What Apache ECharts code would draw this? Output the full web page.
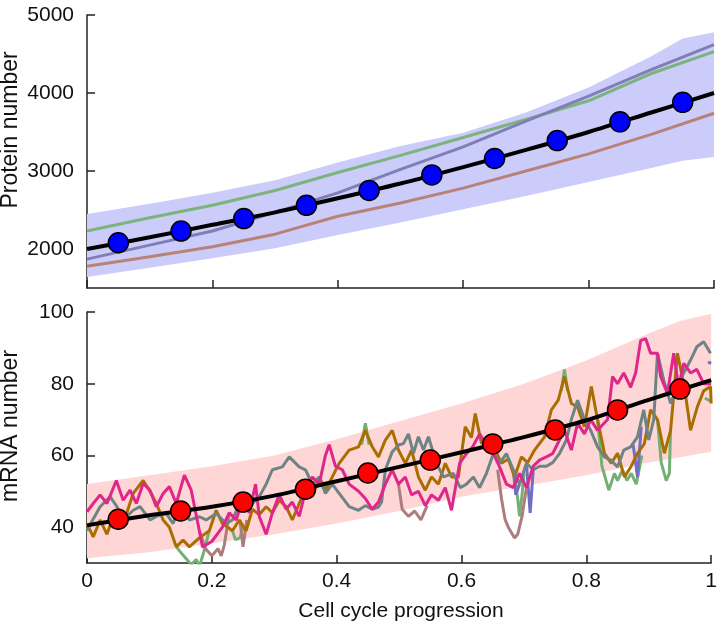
<!DOCTYPE html>
<html>
<head>
<meta charset="utf-8">
<script src="https://cdn.jsdelivr.net/npm/echarts@6/dist/echarts.min.js"></script>
<style>
  html, body { margin: 0; padding: 0; background: #fff; }
  #chart { width: 720px; height: 623px; }
</style>
</head>
<body>
<div id="chart"></div>
<script>
// ---- protein panel ----
const protX = [0, 0.1, 0.2, 0.3, 0.4, 0.5, 0.6, 0.7, 0.8, 0.9, 1];
const protMean = [2000, 2150, 2310, 2470, 2650, 2840, 3050, 3270, 3500, 3750, 4000];
const protGreen = [2230, 2400, 2560, 2750, 2980, 3200, 3430, 3660, 3900, 4250, 4530];
const protPurple = [1870, 2050, 2230, 2470, 2720, 3020, 3310, 3640, 3960, 4300, 4620];
const protRose = [1780, 1900, 2030, 2190, 2420, 2590, 2780, 3000, 3220, 3470, 3740];
const protDotX = [0.05, 0.15, 0.25, 0.35, 0.45, 0.55, 0.65, 0.75, 0.85, 0.95];
const protDots = [2080, 2230, 2390, 2560, 2750, 2950, 3160, 3390, 3630, 3880];
const protBandX = [0, 0.1, 0.2, 0.3, 0.4, 0.5, 0.6, 0.7, 0.8, 0.9, 0.95, 1];
const protUpper = [2450, 2580, 2720, 2880, 3110, 3320, 3490, 3750, 4070, 4470, 4700, 4780];
const protLower = [1640, 1760, 1880, 2010, 2180, 2340, 2510, 2680, 2860, 3040, 3130, 3180];
const protTicks = [2000, 3000, 4000, 5000];

// ---- mRNA panel ----
const mrnaX = [0, 0.1, 0.2, 0.3, 0.4, 0.5, 0.6, 0.7, 0.8, 0.9, 1];
const mrnaMean = [40.5, 43.3, 45.7, 48.8, 52.8, 56.8, 60.9, 65.1, 69.8, 75.5, 81];
const mrnaDotX = [0.05, 0.15, 0.25, 0.35, 0.45, 0.55, 0.65, 0.75, 0.85, 0.95];
const mrnaDots = [42.2, 44.5, 47.0, 50.6, 55.1, 58.7, 63.2, 67.1, 72.7, 78.5];
const mrnaBandX = [0, 0.1, 0.2, 0.3, 0.4, 0.5, 0.6, 0.7, 0.8, 0.9, 0.95, 1];
const mrnaUpper = [52, 54.5, 57, 60, 64.5, 69.5, 74.5, 80, 86.5, 94, 97.5, 99.5];
const mrnaLower = [31.3, 33, 35.5, 38, 41, 44.5, 48.5, 51.5, 54.5, 58, 59.5, 61];
const mrnaTicks = [40, 60, 80, 100];

const mrnaGold = [[0,41],[0.01,37.3],[0.021,42],[0.032,38],[0.042,43],[0.058,41],[0.074,49.4],[0.09,53],[0.1,50.3],[0.111,46.6],[0.122,42],[0.132,40],[0.143,34.5],[0.154,36.4],[0.164,34.5],[0.18,37],[0.196,39],[0.207,44.7],[0.217,41],[0.233,39],[0.244,42],[0.255,39],[0.265,45],[0.276,43.5],[0.287,45.7],[0.297,44],[0.308,47.5],[0.319,45.7],[0.329,42],[0.34,46.6],[0.35,50.3],[0.361,48.5],[0.372,54],[0.382,50.3],[0.393,54],[0.404,57.8],[0.42,61.5],[0.435,62.4],[0.446,67],[0.457,62.4],[0.467,59.6],[0.478,64.3],[0.489,67],[0.499,61.5],[0.51,57.8],[0.52,61.5],[0.531,54],[0.542,50.3],[0.552,54],[0.563,52],[0.574,57.8],[0.584,54],[0.595,54],[0.606,68],[0.616,65],[0.622,71.7],[0.632,63.3],[0.643,65],[0.653,62],[0.664,57.8],[0.675,59],[0.685,54],[0.696,59.6],[0.706,58],[0.717,61.5],[0.733,65.2],[0.744,72.7],[0.755,75.4],[0.765,82],[0.776,74.5],[0.786,73.5],[0.797,68],[0.808,79.2],[0.818,70],[0.829,60.6],[0.84,57.8],[0.85,60.6],[0.861,54],[0.872,57],[0.882,60.6],[0.893,63.3],[0.903,72.7],[0.914,70],[0.925,60.6],[0.935,67],[0.946,88.5],[0.957,79.2],[0.967,67],[0.978,73.6],[0.988,78],[0.999,79.2],[1,74.5]];
const mrnaGrey = [[0,39],[0.006,41],[0.021,45.7],[0.037,48.5],[0.048,45.7],[0.058,42],[0.074,44.7],[0.085,45.7],[0.101,42],[0.111,43],[0.127,43.8],[0.138,41],[0.148,45.7],[0.164,42],[0.18,42.9],[0.191,42],[0.207,43.8],[0.223,41],[0.233,42],[0.244,46.6],[0.26,45.7],[0.276,48.5],[0.287,52],[0.297,56],[0.313,56.8],[0.324,59.6],[0.34,56.8],[0.35,56],[0.361,52],[0.372,54],[0.382,49.4],[0.393,52],[0.404,49.4],[0.42,45.7],[0.435,44.7],[0.446,46],[0.457,45],[0.467,45.6],[0.472,47],[0.478,56],[0.489,61],[0.5,63],[0.507,63.3],[0.515,66],[0.523,60.6],[0.531,65.2],[0.539,61.5],[0.547,65.2],[0.555,60.6],[0.56,57.8],[0.571,54],[0.587,55],[0.598,51],[0.608,52],[0.619,54],[0.629,51],[0.64,55],[0.651,60.5],[0.661,57.8],[0.672,60.5],[0.683,56],[0.693,52],[0.704,57.8],[0.715,56],[0.725,57],[0.736,57],[0.746,58],[0.757,60.5],[0.768,64.3],[0.776,70],[0.786,75.4],[0.797,70],[0.807,67],[0.818,62.4],[0.829,59.6],[0.839,58.7],[0.85,56.8],[0.86,61.5],[0.871,62.4],[0.882,65.2],[0.892,72.7],[0.9,64.3],[0.908,70],[0.914,88.5],[0.924,81],[0.935,74.5],[0.946,79],[0.956,83],[0.967,86.6],[0.977,90.3],[0.988,91.7],[0.999,88.5]];
const mrnaMagenta = [[0,44.3],[0.01,46.6],[0.021,49],[0.032,46.6],[0.047,53],[0.058,47.5],[0.069,50.3],[0.079,46.6],[0.09,52.2],[0.101,50.3],[0.111,45.7],[0.122,49.4],[0.132,51.3],[0.143,46.6],[0.156,54.5],[0.167,50.3],[0.18,39],[0.185,34.5],[0.2,36],[0.217,40],[0.228,44],[0.239,42],[0.25,48],[0.26,44],[0.27,52],[0.276,43],[0.287,38],[0.297,44],[0.308,49],[0.319,45],[0.329,47],[0.34,43],[0.35,50],[0.361,54],[0.372,52],[0.382,60],[0.388,63],[0.398,57],[0.409,56],[0.42,52],[0.435,50],[0.446,48],[0.457,45],[0.467,47],[0.478,52],[0.489,56],[0.499,52],[0.51,54],[0.52,49],[0.531,50],[0.542,46],[0.552,49],[0.563,47.5],[0.574,51],[0.584,44.7],[0.597,57.8],[0.608,60.5],[0.618,62.4],[0.629,66],[0.64,63],[0.651,60.5],[0.661,56.8],[0.672,52],[0.683,51],[0.693,55],[0.704,51],[0.715,57],[0.725,58.7],[0.736,59.6],[0.746,60.5],[0.757,64.3],[0.765,67],[0.776,61.5],[0.786,69],[0.797,66],[0.807,70],[0.818,67],[0.834,70],[0.842,82],[0.85,80],[0.86,83],[0.871,79],[0.879,83],[0.887,92],[0.895,92.6],[0.903,88.5],[0.914,88.5],[0.919,82],[0.93,77.3],[0.94,88.5],[0.948,79],[0.956,85.7],[0.967,83],[0.977,84],[0.988,80],[1,80]];

// traces mostly hidden under the ones above; only the bits that show
const mrnaGreenBits = [
  [[0.143,34.5],[0.15,33],[0.16,31],[0.167,29.5],[0.175,31],[0.18,29],[0.187,33],[0.196,39]],
  [[0.233,39],[0.238,36.5],[0.245,37],[0.25,40]],
  [[0.44,63],[0.446,69],[0.452,63]],
  [[0.685,54],[0.69,48],[0.693,43],[0.697,49],[0.7,55]],
  [[0.76,78],[0.765,84],[0.77,78]],
  [[0.818,70],[0.825,57],[0.836,50.3],[0.845,55],[0.85,53],[0.858,56],[0.865,53],[0.872,55],[0.88,52],[0.889,60]],
  [[0.914,70],[0.92,58],[0.928,53],[0.933,55],[0.935,67]],
  [[0.99,76],[1,75]]
];
const mrnaBlueBits = [
  [[0.683,56],[0.687,49],[0.693,52]],
  [[0.704,57.8],[0.71,44],[0.715,56]],
  [[0.875,63],[0.882,54],[0.888,68]],
  [[0.995,86],[1,85.7]]
];
const mrnaRoseBits = [
  [[0.18,39],[0.19,34],[0.2,32],[0.21,34],[0.215,32],[0.22,35],[0.228,44]],
  [[0.245,42],[0.25,34.5],[0.256,42]],
  [[0.499,52],[0.505,45],[0.515,43],[0.525,44.5],[0.535,42],[0.545,46]],
  [[0.658,56],[0.664,48],[0.67,42],[0.675,40],[0.685,37],[0.69,38],[0.697,43],[0.704,51]]
];

const zip = (xs, ys) => xs.map((x, i) => [x, ys[i]]);
const AXIS = '#222';
const FONT = 'Liberation Sans, Arial, sans-serif';

function lineS(data, color, width, gi, z) {
  return {
    type: 'line', data, xAxisIndex: gi, yAxisIndex: gi,
    symbol: 'none', z: z || 2, silent: true,
    lineStyle: { color, width }
  };
}
// shaded range: one polygon through the axis scales
function bandS(xs, lo, hi, color, gi) {
  return {
    type: 'custom', xAxisIndex: gi, yAxisIndex: gi, z: 1, silent: true, clip: true,
    data: [[xs[0], lo[0]]],
    renderItem: (params, api) => {
      const top = xs.map((x, i) => api.coord([x, hi[i]]));
      const bot = xs.map((x, i) => api.coord([x, lo[i]])).reverse();
      return { type: 'polygon', shape: { points: top.concat(bot) }, style: { fill: color } };
    }
  };
}
function dotS(xs, ys, color, gi) {
  return {
    type: 'scatter', data: zip(xs, ys), xAxisIndex: gi, yAxisIndex: gi,
    symbolSize: 20, z: 5, silent: true,
    itemStyle: { color, borderColor: '#000', borderWidth: 1.5, opacity: 1 }
  };
}
function xAx(gi, labels) {
  return {
    type: 'value', gridIndex: gi, min: 0, max: 1, interval: 0.2,
    axisLine: { lineStyle: { color: AXIS, width: 1.5 } },
    axisTick: { inside: true, length: 8, lineStyle: { color: AXIS, width: 1.5 } },
    axisLabel: { show: labels, color: '#111', fontSize: 21, fontFamily: FONT, margin: 8 },
    splitLine: { show: false }
  };
}
function yAx(gi, min, max, ticks) {
  return {
    type: 'value', gridIndex: gi, min, max,
    axisLine: { show: true, lineStyle: { color: AXIS, width: 1.5 } },
    axisTick: { show: true, inside: true, length: 8, customValues: ticks, lineStyle: { color: AXIS, width: 1.5 } },
    axisLabel: { color: '#111', fontSize: 21, fontFamily: FONT, margin: 13, customValues: ticks,
      formatter: v => String(v) },
    splitLine: { show: false }
  };
}

const series = [
  bandS(protBandX, protLower, protUpper, '#ccccfb', 0),
  lineS(zip(protX, protRose), '#b98276', 3, 0),
  lineS(zip(protX, protGreen), '#7db37d', 3, 0),
  lineS(zip(protX, protPurple), '#7f7fb8', 3, 0),
  Object.assign(lineS(zip(protX, protMean), '#000', 4, 0, 4), { smooth: 0.3 }),
  dotS(protDotX, protDots, '#0000ff', 0),

  bandS(mrnaBandX, mrnaLower, mrnaUpper, '#ffd6d6', 1),
  ...mrnaGreenBits.map(d => lineS(d, '#74b074', 3, 1)),
  ...mrnaBlueBits.map(d => lineS(d, '#6f6fc6', 3, 1)),
  ...mrnaRoseBits.map(d => lineS(d, '#ad7c7c', 3, 1)),
  lineS(mrnaGold, '#a86f00', 3, 1, 3),
  lineS(mrnaGrey, '#6e8383', 3, 1, 3),
  lineS(mrnaMagenta, '#e0268a', 3, 1, 3),
  Object.assign(lineS(zip(mrnaX, mrnaMean), '#000', 4, 1, 4), { smooth: 0.3 }),
  dotS(mrnaDotX, mrnaDots, '#ff0000', 1)
];

const chart = echarts.init(document.getElementById('chart'), null, { renderer: 'canvas' });
chart.setOption({
  animation: false,
  backgroundColor: '#fff',
  grid: [
    { left: 87, top: 15, width: 627, height: 273 },
    { left: 87, top: 312, width: 627, height: 251 }
  ],
  xAxis: [xAx(0, false), xAx(1, true)],
  yAxis: [yAx(0, 1500, 5000, protTicks), yAx(1, 30, 100, mrnaTicks)],
  graphic: [
    { type: 'text', x: 11, y: 130, rotation: Math.PI / 2,
      style: { text: 'Protein number', fill: '#111', font: '23px ' + FONT, textAlign: 'center', textVerticalAlign: 'middle' } },
    { type: 'text', x: 11, y: 426, rotation: Math.PI / 2,
      style: { text: 'mRNA number', fill: '#111', font: '23px ' + FONT, textAlign: 'center', textVerticalAlign: 'middle' } },
    { type: 'text', x: 401, y: 611,
      style: { text: 'Cell cycle progression', fill: '#111', font: '21px ' + FONT, textAlign: 'center', textVerticalAlign: 'middle' } }
  ],
  series
});
</script>
</body>
</html>
